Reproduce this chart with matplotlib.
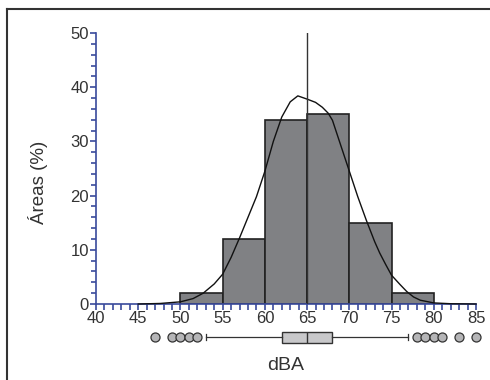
import matplotlib
matplotlib.use("Agg")
import matplotlib.pyplot as plt
from matplotlib.ticker import MultipleLocator
from matplotlib.lines import Line2D

plt.rcParams['font.family'] = ['Liberation Sans', 'DejaVu Sans']

# Histogram data (bin edges in dBA, area %)
bin_edges = [50, 55, 60, 65, 70, 75, 80]
bin_values = [2, 12, 34, 35, 15, 2]

# Density curve (dBA, %)
curve_x = [45, 47.6, 50, 51.5, 52.7, 54, 55, 56, 57, 58, 59, 60, 61, 62, 63, 63.9, 65, 66, 66.8,
           67.5, 68, 69, 70, 71, 72, 73, 73.6, 74.3, 75, 76, 76.8, 77.6, 78.4, 80, 82, 85]
curve_y = [0, 0.1, 0.4, 1.0, 2.0, 3.7, 5.5, 8.6, 12.2, 16.0, 19.8, 24.5, 30.0, 34.5, 37.3, 38.4,
           37.8, 37.2, 36.3, 35.2, 33.9, 29.2, 24.5, 19.8, 15.5, 11.5, 9.4, 7.3, 5.3, 3.6, 2.3,
           1.3, 0.7, 0.2, 0.05, 0]

median_line = 65

# Boxplot summary
box_q1, box_med, box_q3 = 62, 65, 68
whisker_lo, whisker_hi = 53, 77
outliers = [47, 49, 50, 51, 52, 78, 79, 80, 81, 83, 85]

xticks = [40, 45, 50, 55, 60, 65, 70, 75, 80, 85]
yticks = [0, 10, 20, 30, 40, 50]

W, H = 490, 380
fig = plt.figure(figsize=(W / 100, H / 100), dpi=100)
fig.patch.set_facecolor('white')

# Frame (open at right/bottom)
fig.add_artist(Line2D([7 / W, 7 / W], [0, 1 - 9 / H], color='#333333', lw=1.5, transform=fig.transFigure))
fig.add_artist(Line2D([7 / W, 1], [1 - 9 / H, 1 - 9 / H], color='#333333', lw=1.5, transform=fig.transFigure))

ax = fig.add_axes([96 / W, 1 - 304 / H, (476 - 96) / W, (304 - 33) / H])
blue = '#3a4a9c'
txt = '#333333'

widths = [bin_edges[i + 1] - bin_edges[i] for i in range(len(bin_values))]
ax.bar(bin_edges[:-1], bin_values, width=widths, align='edge', color='#808184',
       edgecolor='#222222', linewidth=1.2, zorder=2)
ax.plot(curve_x, curve_y, color='#111111', lw=1.0, zorder=3, clip_on=False)
ax.plot([median_line, median_line], [0, 50], color='#333333', lw=1.0, zorder=4)

ax.set_xlim(40, 85)
ax.set_ylim(0, 50)
for s in ['top', 'right']:
    ax.spines[s].set_visible(False)
for s in ['left', 'bottom']:
    ax.spines[s].set_color(blue)
    ax.spines[s].set_linewidth(1.2)

ax.set_xticks(xticks)
ax.set_yticks(yticks)
ax.xaxis.set_minor_locator(MultipleLocator(1))
ax.yaxis.set_minor_locator(MultipleLocator(2))
ax.tick_params(axis='both', which='both', colors=blue, labelcolor=txt, labelsize=12, direction='out')
ax.tick_params(axis='x', which='major', length=4, width=1.2, pad=1)
ax.tick_params(axis='x', which='minor', length=4, width=1.2)
ax.tick_params(axis='y', which='major', length=4, width=1.2, pad=1)
ax.tick_params(axis='y', which='minor', length=3.5, width=1.2)

ax.set_ylabel('Áreas (%)', fontsize=13.5, color=txt, labelpad=16)
ax.yaxis.label.set_y(0.45)

# Boxplot axes below
bax = fig.add_axes([96 / W, 1 - 348 / H, (476 - 96) / W, 22 / H])
bax.set_xlim(40, 85)
bax.set_ylim(0, 1)
bax.axis('off')
stats = [dict(med=box_med, q1=box_q1, q3=box_q3, whislo=whisker_lo, whishi=whisker_hi,
              fliers=outliers)]
bax.bxp(stats, positions=[0.5], vert=False, widths=0.5, patch_artist=True,
        boxprops=dict(facecolor='#c8c8ca', edgecolor='#333333', lw=1.0),
        medianprops=dict(color='#333333', lw=1.0),
        whiskerprops=dict(color='#333333', lw=0.9),
        capprops=dict(color='#333333', lw=0.9),
        capwidths=0.3,
        flierprops=dict(marker='o', markerfacecolor='#b5b5b7', markeredgecolor='#333333',
                        markersize=6.5, markeredgewidth=0.9))
for a in bax.lines + bax.patches:
    a.set_clip_on(False)

fig.text((96 + 476) / 2 / W, 1 - 366 / H, 'dBA', fontsize=14, color=txt, ha='center', va='center')

fig.savefig('out.png', dpi=100)
